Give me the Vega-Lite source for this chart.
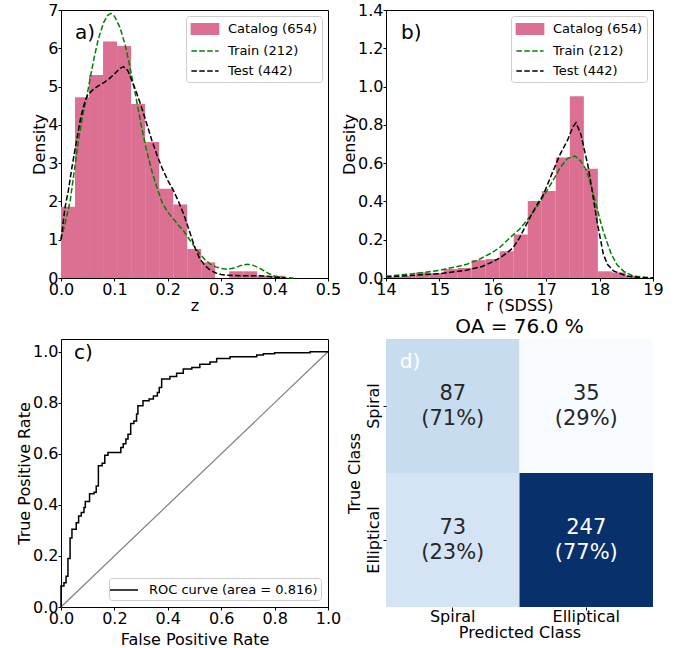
{
  "$schema": "https://vega.github.io/schema/vega-lite/v6.json",
  "background": "white",
  "padding": {"left": 16, "top": 1, "right": 5, "bottom": 5},
  "config": {
    "font": "DejaVu Sans",
    "view": {"stroke": "black", "strokeWidth": 1},
    "axis": {
      "labelFont": "DejaVu Sans", "titleFont": "DejaVu Sans",
      "labelFontSize": 16, "titleFontSize": 16, "titleFontWeight": "normal",
      "labelColor": "black", "titleColor": "black", "domainColor": "black", "tickColor": "black",
      "tickSize": 3, "labelPadding": 0, "titlePadding": 0, "grid": false,
      "labelFlush": false, "labelOverlap": false
    },
    "axisX": {"labelOverlap": false},
    "axisY": {"labelOverlap": false},
    "axisQuantitative": {"labelOverlap": false},
    "title": {"font": "DejaVu Sans", "fontWeight": "normal", "color": "black"}
  },
  "resolve": {"scale": {"color": "independent"}, "legend": {"color": "independent"}},
  "datasets": {
    "histA": [
      {"z0": 0, "z1": 0.02625, "density": 1.864},
      {"z0": 0.02625, "z1": 0.0525, "density": 4.718},
      {"z0": 0.0525, "z1": 0.07875, "density": 5.301},
      {"z0": 0.07875, "z1": 0.105, "density": 6.174},
      {"z0": 0.105, "z1": 0.13125, "density": 6.058},
      {"z0": 0.13125, "z1": 0.1575, "density": 4.544},
      {"z0": 0.1575, "z1": 0.18375, "density": 3.553},
      {"z0": 0.18375, "z1": 0.21, "density": 2.33},
      {"z0": 0.21, "z1": 0.23625, "density": 1.922},
      {"z0": 0.23625, "z1": 0.2625, "density": 0.757},
      {"z0": 0.2625, "z1": 0.28875, "density": 0.408},
      {"z0": 0.28875, "z1": 0.315, "density": 0},
      {"z0": 0.315, "z1": 0.34125, "density": 0.175},
      {"z0": 0.34125, "z1": 0.3675, "density": 0.175},
      {"z0": 0.3675, "z1": 0.39375, "density": 0.058},
      {"z0": 0.39375, "z1": 0.42, "density": 0.058}
    ],
    "kdeA": [
      {"series": "Train (212)", "z": 0, "density": 1.0},
      {"series": "Train (212)", "z": 0.008, "density": 1.45},
      {"series": "Train (212)", "z": 0.017, "density": 2.0},
      {"series": "Train (212)", "z": 0.025, "density": 2.8},
      {"series": "Train (212)", "z": 0.0325, "density": 3.58},
      {"series": "Train (212)", "z": 0.04, "density": 4.2},
      {"series": "Train (212)", "z": 0.048, "density": 4.71},
      {"series": "Train (212)", "z": 0.055, "density": 5.25},
      {"series": "Train (212)", "z": 0.062, "density": 5.75},
      {"series": "Train (212)", "z": 0.07, "density": 6.25},
      {"series": "Train (212)", "z": 0.08, "density": 6.68},
      {"series": "Train (212)", "z": 0.0875, "density": 6.86},
      {"series": "Train (212)", "z": 0.0937, "density": 6.91},
      {"series": "Train (212)", "z": 0.1, "density": 6.84},
      {"series": "Train (212)", "z": 0.11, "density": 6.56},
      {"series": "Train (212)", "z": 0.12, "density": 6.1},
      {"series": "Train (212)", "z": 0.13, "density": 5.45},
      {"series": "Train (212)", "z": 0.14, "density": 4.75},
      {"series": "Train (212)", "z": 0.15, "density": 4.0},
      {"series": "Train (212)", "z": 0.16, "density": 3.35},
      {"series": "Train (212)", "z": 0.17, "density": 2.8},
      {"series": "Train (212)", "z": 0.18, "density": 2.35},
      {"series": "Train (212)", "z": 0.19, "density": 1.95},
      {"series": "Train (212)", "z": 0.2, "density": 1.72},
      {"series": "Train (212)", "z": 0.21, "density": 1.55},
      {"series": "Train (212)", "z": 0.22, "density": 1.38},
      {"series": "Train (212)", "z": 0.23, "density": 1.22},
      {"series": "Train (212)", "z": 0.24, "density": 1.02},
      {"series": "Train (212)", "z": 0.25, "density": 0.82},
      {"series": "Train (212)", "z": 0.26, "density": 0.63},
      {"series": "Train (212)", "z": 0.27, "density": 0.47},
      {"series": "Train (212)", "z": 0.28, "density": 0.36},
      {"series": "Train (212)", "z": 0.29, "density": 0.29},
      {"series": "Train (212)", "z": 0.3, "density": 0.25},
      {"series": "Train (212)", "z": 0.31, "density": 0.23},
      {"series": "Train (212)", "z": 0.32, "density": 0.25},
      {"series": "Train (212)", "z": 0.33, "density": 0.29},
      {"series": "Train (212)", "z": 0.34, "density": 0.34},
      {"series": "Train (212)", "z": 0.35, "density": 0.36},
      {"series": "Train (212)", "z": 0.36, "density": 0.33},
      {"series": "Train (212)", "z": 0.37, "density": 0.27},
      {"series": "Train (212)", "z": 0.38, "density": 0.19},
      {"series": "Train (212)", "z": 0.39, "density": 0.11},
      {"series": "Train (212)", "z": 0.4, "density": 0.05},
      {"series": "Train (212)", "z": 0.41, "density": 0.02},
      {"series": "Train (212)", "z": 0.42, "density": 0.01},
      {"series": "Train (212)", "z": 0.435, "density": 0.0},
      {"series": "Test (442)", "z": 0, "density": 1.0},
      {"series": "Test (442)", "z": 0.0075, "density": 1.84},
      {"series": "Test (442)", "z": 0.014, "density": 2.3},
      {"series": "Test (442)", "z": 0.02, "density": 2.85},
      {"series": "Test (442)", "z": 0.029, "density": 3.58},
      {"series": "Test (442)", "z": 0.037, "density": 4.2},
      {"series": "Test (442)", "z": 0.045, "density": 4.62},
      {"series": "Test (442)", "z": 0.05, "density": 4.78},
      {"series": "Test (442)", "z": 0.06, "density": 4.92},
      {"series": "Test (442)", "z": 0.07, "density": 5.02},
      {"series": "Test (442)", "z": 0.08, "density": 5.1},
      {"series": "Test (442)", "z": 0.09, "density": 5.2},
      {"series": "Test (442)", "z": 0.1, "density": 5.33},
      {"series": "Test (442)", "z": 0.11, "density": 5.47},
      {"series": "Test (442)", "z": 0.117, "density": 5.52},
      {"series": "Test (442)", "z": 0.125, "density": 5.42},
      {"series": "Test (442)", "z": 0.13, "density": 5.25},
      {"series": "Test (442)", "z": 0.14, "density": 4.9},
      {"series": "Test (442)", "z": 0.15, "density": 4.5},
      {"series": "Test (442)", "z": 0.16, "density": 4.05},
      {"series": "Test (442)", "z": 0.17, "density": 3.6},
      {"series": "Test (442)", "z": 0.18, "density": 3.2},
      {"series": "Test (442)", "z": 0.19, "density": 2.85},
      {"series": "Test (442)", "z": 0.2, "density": 2.55},
      {"series": "Test (442)", "z": 0.21, "density": 2.3},
      {"series": "Test (442)", "z": 0.22, "density": 2.0},
      {"series": "Test (442)", "z": 0.23, "density": 1.66},
      {"series": "Test (442)", "z": 0.24, "density": 1.25},
      {"series": "Test (442)", "z": 0.25, "density": 0.82},
      {"series": "Test (442)", "z": 0.26, "density": 0.5},
      {"series": "Test (442)", "z": 0.27, "density": 0.32},
      {"series": "Test (442)", "z": 0.28, "density": 0.2},
      {"series": "Test (442)", "z": 0.29, "density": 0.13},
      {"series": "Test (442)", "z": 0.3, "density": 0.09},
      {"series": "Test (442)", "z": 0.31, "density": 0.07},
      {"series": "Test (442)", "z": 0.34, "density": 0.06},
      {"series": "Test (442)", "z": 0.37, "density": 0.06},
      {"series": "Test (442)", "z": 0.38, "density": 0.05},
      {"series": "Test (442)", "z": 0.39, "density": 0.04},
      {"series": "Test (442)", "z": 0.4, "density": 0.02},
      {"series": "Test (442)", "z": 0.42, "density": 0.0}
    ],
    "histB": [
      {"r0": 14.03, "r1": 14.2925, "density": 0.0058},
      {"r0": 14.2925, "r1": 14.555, "density": 0.0117},
      {"r0": 14.555, "r1": 14.8175, "density": 0.029},
      {"r0": 14.8175, "r1": 15.08, "density": 0.025},
      {"r0": 15.08, "r1": 15.3425, "density": 0.0466},
      {"r0": 15.3425, "r1": 15.605, "density": 0.0524},
      {"r0": 15.605, "r1": 15.8675, "density": 0.0932},
      {"r0": 15.8675, "r1": 16.13, "density": 0.099},
      {"r0": 16.13, "r1": 16.3925, "density": 0.1398},
      {"r0": 16.3925, "r1": 16.655, "density": 0.2272},
      {"r0": 16.655, "r1": 16.9175, "density": 0.4019},
      {"r0": 16.9175, "r1": 17.18, "density": 0.4544},
      {"r0": 17.18, "r1": 17.4425, "density": 0.6291},
      {"r0": 17.4425, "r1": 17.705, "density": 0.9495},
      {"r0": 17.705, "r1": 17.9675, "density": 0.5708},
      {"r0": 17.9675, "r1": 18.23, "density": 0.035},
      {"r0": 18.23, "r1": 18.4925, "density": 0.0291},
      {"r0": 18.4925, "r1": 18.755, "density": 0.0117}
    ],
    "kdeB": [
      {"series": "Train (212)", "r": 14.0, "density": 0.009},
      {"series": "Train (212)", "r": 14.5, "density": 0.022},
      {"series": "Train (212)", "r": 15.0, "density": 0.04},
      {"series": "Train (212)", "r": 15.5, "density": 0.07},
      {"series": "Train (212)", "r": 15.75, "density": 0.098},
      {"series": "Train (212)", "r": 16.0, "density": 0.135},
      {"series": "Train (212)", "r": 16.13, "density": 0.16},
      {"series": "Train (212)", "r": 16.32, "density": 0.21},
      {"series": "Train (212)", "r": 16.5, "density": 0.255},
      {"series": "Train (212)", "r": 16.63, "density": 0.298},
      {"series": "Train (212)", "r": 16.8, "density": 0.36},
      {"series": "Train (212)", "r": 17.01, "density": 0.455},
      {"series": "Train (212)", "r": 17.15, "density": 0.52},
      {"series": "Train (212)", "r": 17.26, "density": 0.576},
      {"series": "Train (212)", "r": 17.4, "density": 0.625},
      {"series": "Train (212)", "r": 17.54, "density": 0.637},
      {"series": "Train (212)", "r": 17.65, "density": 0.61},
      {"series": "Train (212)", "r": 17.76, "density": 0.56},
      {"series": "Train (212)", "r": 17.85, "density": 0.47},
      {"series": "Train (212)", "r": 17.95, "density": 0.367},
      {"series": "Train (212)", "r": 18.04, "density": 0.27},
      {"series": "Train (212)", "r": 18.13, "density": 0.193},
      {"series": "Train (212)", "r": 18.22, "density": 0.125},
      {"series": "Train (212)", "r": 18.32, "density": 0.072},
      {"series": "Train (212)", "r": 18.45, "density": 0.035},
      {"series": "Train (212)", "r": 18.63, "density": 0.01},
      {"series": "Train (212)", "r": 18.8, "density": 0.004},
      {"series": "Train (212)", "r": 19.0, "density": 0.001},
      {"series": "Test (442)", "r": 14.0, "density": 0.005},
      {"series": "Test (442)", "r": 14.5, "density": 0.014},
      {"series": "Test (442)", "r": 15.0, "density": 0.023},
      {"series": "Test (442)", "r": 15.5, "density": 0.04},
      {"series": "Test (442)", "r": 15.8, "density": 0.06},
      {"series": "Test (442)", "r": 16.0, "density": 0.085},
      {"series": "Test (442)", "r": 16.13, "density": 0.105},
      {"series": "Test (442)", "r": 16.25, "density": 0.128},
      {"series": "Test (442)", "r": 16.38, "density": 0.158},
      {"series": "Test (442)", "r": 16.5, "density": 0.21},
      {"series": "Test (442)", "r": 16.63, "density": 0.28},
      {"series": "Test (442)", "r": 16.8, "density": 0.37},
      {"series": "Test (442)", "r": 16.95, "density": 0.437},
      {"series": "Test (442)", "r": 17.1, "density": 0.54},
      {"series": "Test (442)", "r": 17.26, "density": 0.646},
      {"series": "Test (442)", "r": 17.4, "density": 0.72},
      {"series": "Test (442)", "r": 17.5, "density": 0.79},
      {"series": "Test (442)", "r": 17.558, "density": 0.811},
      {"series": "Test (442)", "r": 17.65, "density": 0.75},
      {"series": "Test (442)", "r": 17.79, "density": 0.576},
      {"series": "Test (442)", "r": 17.87, "density": 0.44},
      {"series": "Test (442)", "r": 17.95, "density": 0.298},
      {"series": "Test (442)", "r": 18.07, "density": 0.124},
      {"series": "Test (442)", "r": 18.15, "density": 0.07},
      {"series": "Test (442)", "r": 18.26, "density": 0.037},
      {"series": "Test (442)", "r": 18.51, "density": 0.01},
      {"series": "Test (442)", "r": 18.75, "density": 0.003},
      {"series": "Test (442)", "r": 19.0, "density": 0.001}
    ],
    "roc": [
      {"fpr": 0, "tpr": 0},
      {"fpr": 0.011, "tpr": 0.082},
      {"fpr": 0.019, "tpr": 0.095},
      {"fpr": 0.026, "tpr": 0.12},
      {"fpr": 0.034, "tpr": 0.19},
      {"fpr": 0.041, "tpr": 0.27},
      {"fpr": 0.057, "tpr": 0.305},
      {"fpr": 0.066, "tpr": 0.33},
      {"fpr": 0.076, "tpr": 0.357},
      {"fpr": 0.086, "tpr": 0.37},
      {"fpr": 0.091, "tpr": 0.39},
      {"fpr": 0.107, "tpr": 0.413},
      {"fpr": 0.124, "tpr": 0.444},
      {"fpr": 0.132, "tpr": 0.45},
      {"fpr": 0.14, "tpr": 0.474},
      {"fpr": 0.154, "tpr": 0.553},
      {"fpr": 0.164, "tpr": 0.563},
      {"fpr": 0.176, "tpr": 0.595},
      {"fpr": 0.224, "tpr": 0.605},
      {"fpr": 0.233, "tpr": 0.625},
      {"fpr": 0.243, "tpr": 0.64},
      {"fpr": 0.251, "tpr": 0.658},
      {"fpr": 0.261, "tpr": 0.677},
      {"fpr": 0.273, "tpr": 0.719},
      {"fpr": 0.283, "tpr": 0.729},
      {"fpr": 0.288, "tpr": 0.756},
      {"fpr": 0.307, "tpr": 0.788},
      {"fpr": 0.33, "tpr": 0.808},
      {"fpr": 0.346, "tpr": 0.815},
      {"fpr": 0.361, "tpr": 0.827},
      {"fpr": 0.368, "tpr": 0.84},
      {"fpr": 0.377, "tpr": 0.86},
      {"fpr": 0.408, "tpr": 0.893},
      {"fpr": 0.433, "tpr": 0.903},
      {"fpr": 0.458, "tpr": 0.916},
      {"fpr": 0.49, "tpr": 0.932},
      {"fpr": 0.52, "tpr": 0.938},
      {"fpr": 0.558, "tpr": 0.951},
      {"fpr": 0.583, "tpr": 0.96},
      {"fpr": 0.633, "tpr": 0.974},
      {"fpr": 0.733, "tpr": 0.98},
      {"fpr": 0.758, "tpr": 0.987},
      {"fpr": 0.8, "tpr": 0.992},
      {"fpr": 0.933, "tpr": 0.996},
      {"fpr": 1.0, "tpr": 1.0}
    ],
    "diag": [{"fpr": 0, "tpr": 0}, {"fpr": 1, "tpr": 1}],
    "cm": [
      {"actual": "Spiral", "pred": "Spiral", "count": 87, "label": "87\n(71%)"},
      {"actual": "Spiral", "pred": "Elliptical", "count": 35, "label": "35\n(29%)"},
      {"actual": "Elliptical", "pred": "Spiral", "count": 73, "label": "73\n(23%)"},
      {"actual": "Elliptical", "pred": "Elliptical", "count": 247, "label": "247\n(77%)"}
    ]
  },
  "columns": 2,
  "bounds": "flush",
  "spacing": {"row": 61, "column": 58},
  "concat": [
    {
      "width": 267, "height": 268,
      "layer": [
        {
          "data": {"name": "histA"},
          "mark": {"type": "rect"},
          "encoding": {
            "x": {"field": "z0", "type": "quantitative", "scale": {"domain": [0, 0.5], "nice": false}, "axis": {"title": "z", "values": [0, 0.1, 0.2, 0.3, 0.4, 0.5], "format": ".1f", "labelOverlap": false}},
            "x2": {"field": "z1"},
            "y": {"field": "density", "type": "quantitative", "scale": {"domain": [0, 7], "nice": false}, "axis": {"title": "Density", "values": [0, 1, 2, 3, 4, 5, 6, 7], "format": "d", "labelOverlap": false}},
            "y2": {"datum": 0},
            "color": {
              "datum": "Catalog (654)", "type": "nominal", "title": null,
              "scale": {"domain": ["Catalog (654)", "Train (212)", "Test (442)"], "range": ["#db7093", "#008000", "#000000"]},
              "legend": {
                "title": null, "orient": "top-right", "offset": 6,
                "fillColor": "white", "strokeColor": "#cccccc", "cornerRadius": 3, "padding": 4,
                "labelFontSize": 13, "labelColor": "black", "labelLimit": 300, "symbolSize": 256, "rowPadding": 4,
                "labelOffset": 14, "symbolOffset": 6, "symbolStrokeWidth": 1.5, "symbolType": "M-1.7,0H1.7",
                "encode": {"symbols": {"update": {
                  "shape": {"signal": "datum.value === 'Catalog (654)' ? 'M-1.7,-0.65H1.7V0.65H-1.7Z' : 'M-1.7,0H1.7'"},
                  "fill": {"signal": "datum.value === 'Catalog (654)' ? '#db7093' : 'transparent'"},
                  "stroke": {"signal": "datum.value === 'Catalog (654)' ? 'transparent' : (datum.value === 'Train (212)' ? '#008000' : '#000000')"},
                  "strokeDash": {"signal": "datum.value === 'Catalog (654)' ? [1, 0] : [5.5, 2.4]"},
                  "opacity": {"value": 1}
                }}}
              }
            }
          }
        },
        {
          "data": {"name": "kdeA"},
          "mark": {"type": "line", "strokeWidth": 1.5, "strokeDash": [5.5, 2.4]},
          "encoding": {
            "x": {"field": "z", "type": "quantitative", "axis": {"title": "z", "values": [0, 0.1, 0.2, 0.3, 0.4, 0.5], "format": ".1f", "labelOverlap": false}},
            "y": {"field": "density", "type": "quantitative", "axis": {"title": "Density", "values": [0, 1, 2, 3, 4, 5, 6, 7], "format": "d", "labelOverlap": false}},
            "color": {"field": "series", "type": "nominal", "title": null}
          }
        },
        {
          "data": {"values": [{"t": "a)", "x": 0.026, "y": 6.4}]},
          "mark": {"type": "text", "fontSize": 20, "align": "left", "baseline": "middle", "color": "black"},
          "encoding": {
            "x": {"field": "x", "type": "quantitative", "axis": {"title": "z", "values": [0, 0.1, 0.2, 0.3, 0.4, 0.5], "format": ".1f", "labelOverlap": false}},
            "y": {"field": "y", "type": "quantitative", "axis": {"title": "Density", "values": [0, 1, 2, 3, 4, 5, 6, 7], "format": "d", "labelOverlap": false}},
            "text": {"field": "t"}
          }
        }
      ]
    },
    {
      "width": 267, "height": 268,
      "layer": [
        {
          "data": {"name": "histB"},
          "mark": {"type": "rect"},
          "encoding": {
            "x": {"field": "r0", "type": "quantitative", "scale": {"domain": [14, 19], "nice": false}, "axis": {"title": "r (SDSS)", "values": [14, 15, 16, 17, 18, 19], "format": "d", "labelOverlap": false}},
            "x2": {"field": "r1"},
            "y": {"field": "density", "type": "quantitative", "scale": {"domain": [0, 1.4], "nice": false}, "axis": {"title": "Density", "values": [0, 0.2, 0.4, 0.6, 0.8, 1.0, 1.2, 1.4], "format": ".1f", "labelOverlap": false}},
            "y2": {"datum": 0},
            "color": {
              "datum": "Catalog (654)", "type": "nominal", "title": null,
              "scale": {"domain": ["Catalog (654)", "Train (212)", "Test (442)"], "range": ["#db7093", "#008000", "#000000"]},
              "legend": {
                "title": null, "orient": "top-right", "offset": 6,
                "fillColor": "white", "strokeColor": "#cccccc", "cornerRadius": 3, "padding": 4,
                "labelFontSize": 13, "labelColor": "black", "labelLimit": 300, "symbolSize": 256, "rowPadding": 4,
                "labelOffset": 14, "symbolOffset": 6, "symbolStrokeWidth": 1.5, "symbolType": "M-1.7,0H1.7",
                "encode": {"symbols": {"update": {
                  "shape": {"signal": "datum.value === 'Catalog (654)' ? 'M-1.7,-0.65H1.7V0.65H-1.7Z' : 'M-1.7,0H1.7'"},
                  "fill": {"signal": "datum.value === 'Catalog (654)' ? '#db7093' : 'transparent'"},
                  "stroke": {"signal": "datum.value === 'Catalog (654)' ? 'transparent' : (datum.value === 'Train (212)' ? '#008000' : '#000000')"},
                  "strokeDash": {"signal": "datum.value === 'Catalog (654)' ? [1, 0] : [5.5, 2.4]"},
                  "opacity": {"value": 1}
                }}}
              }
            }
          }
        },
        {
          "data": {"name": "kdeB"},
          "mark": {"type": "line", "strokeWidth": 1.5, "strokeDash": [5.5, 2.4]},
          "encoding": {
            "x": {"field": "r", "type": "quantitative", "axis": {"title": "r (SDSS)", "values": [14, 15, 16, 17, 18, 19], "format": "d", "labelOverlap": false}},
            "y": {"field": "density", "type": "quantitative", "axis": {"title": "Density", "values": [0, 0.2, 0.4, 0.6, 0.8, 1.0, 1.2, 1.4], "format": ".1f", "labelOverlap": false}},
            "color": {"field": "series", "type": "nominal", "title": null}
          }
        },
        {
          "data": {"values": [{"t": "b)", "x": 14.28, "y": 1.28}]},
          "mark": {"type": "text", "fontSize": 20, "align": "left", "baseline": "middle", "color": "black"},
          "encoding": {
            "x": {"field": "x", "type": "quantitative", "axis": {"title": "r (SDSS)", "values": [14, 15, 16, 17, 18, 19], "format": "d", "labelOverlap": false}},
            "y": {"field": "y", "type": "quantitative", "axis": {"title": "Density", "values": [0, 0.2, 0.4, 0.6, 0.8, 1.0, 1.2, 1.4], "format": ".1f", "labelOverlap": false}},
            "text": {"field": "t"}
          }
        }
      ]
    },
    {
      "width": 267, "height": 268,
      "layer": [
        {
          "data": {"name": "diag"},
          "mark": {"type": "line", "color": "#808080", "strokeWidth": 1.2},
          "encoding": {
            "x": {"field": "fpr", "type": "quantitative", "scale": {"domain": [0, 1], "nice": false}, "axis": {"title": "False Positive Rate", "values": [0, 0.2, 0.4, 0.6, 0.8, 1.0], "format": ".1f", "labelOverlap": false, "titlePadding": 5}},
            "y": {"field": "tpr", "type": "quantitative", "scale": {"domain": [0, 1.05], "nice": false}, "axis": {"title": "True Positive Rate", "values": [0, 0.2, 0.4, 0.6, 0.8, 1.0], "format": ".1f", "labelOverlap": false}}
          }
        },
        {
          "data": {"name": "roc"},
          "mark": {"type": "line", "interpolate": "step-before", "strokeWidth": 1.5},
          "encoding": {
            "x": {"field": "fpr", "type": "quantitative", "axis": {"title": "False Positive Rate", "values": [0, 0.2, 0.4, 0.6, 0.8, 1.0], "format": ".1f", "labelOverlap": false, "titlePadding": 5}},
            "y": {"field": "tpr", "type": "quantitative", "axis": {"title": "True Positive Rate", "values": [0, 0.2, 0.4, 0.6, 0.8, 1.0], "format": ".1f", "labelOverlap": false}},
            "color": {
              "datum": "ROC curve (area = 0.816)", "type": "nominal", "title": null,
              "scale": {"domain": ["ROC curve (area = 0.816)"], "range": ["#000000"]},
              "legend": {
                "title": null, "orient": "bottom-right", "offset": 7,
                "fillColor": "white", "strokeColor": "#cccccc", "cornerRadius": 3, "padding": 3,
                "labelFontSize": 13, "labelColor": "black", "labelLimit": 400, "symbolSize": 256,
                "labelOffset": 16, "symbolOffset": 3, "symbolStrokeWidth": 1.5, "symbolType": "M-1.75,0H1.75"
              }
            }
          }
        },
        {
          "data": {"values": [{"t": "c)", "x": 0.049, "y": 0.996}]},
          "mark": {"type": "text", "fontSize": 20, "align": "left", "baseline": "middle", "color": "black"},
          "encoding": {
            "x": {"field": "x", "type": "quantitative", "axis": {"title": "False Positive Rate", "values": [0, 0.2, 0.4, 0.6, 0.8, 1.0], "format": ".1f", "labelOverlap": false, "titlePadding": 5}},
            "y": {"field": "y", "type": "quantitative", "axis": {"title": "True Positive Rate", "values": [0, 0.2, 0.4, 0.6, 0.8, 1.0], "format": ".1f", "labelOverlap": false}},
            "text": {"field": "t"}
          }
        }
      ]
    },
    {
      "width": 267, "height": 268,
      "view": {"stroke": null},
      "title": {"text": "OA = 76.0 %", "fontSize": 20, "fontWeight": "normal", "offset": 2},
      "data": {"name": "cm"},
      "encoding": {
        "x": {"field": "pred", "type": "nominal", "sort": ["Spiral", "Elliptical"], "axis": {"title": "Predicted Class", "labelAngle": 0, "domain": false, "labelPadding": -2, "titlePadding": 0}},
        "y": {"field": "actual", "type": "nominal", "sort": ["Spiral", "Elliptical"], "axis": {"title": "True Class", "labelAngle": 270, "labelAlign": "center", "labelBaseline": "bottom", "domain": false, "labelPadding": 2, "titlePadding": 3}}
      },
      "layer": [
        {
          "mark": {"type": "rect"},
          "encoding": {
            "color": {
              "field": "count", "type": "quantitative", "legend": null,
              "scale": {"type": "linear", "domain": [35, 61.5, 88, 114.5, 141, 167.5, 194, 220.5, 247], "range": ["#f7fbff", "#deebf7", "#c6dbef", "#9ecae1", "#6baed6", "#4292c6", "#2171b5", "#08519c", "#08306b"]}
            }
          }
        },
        {
          "mark": {"type": "text", "fontSize": 21, "lineBreak": "\n", "lineHeight": 25, "baseline": "middle", "dy": -12.5},
          "encoding": {
            "text": {"field": "label"},
            "color": {"condition": {"test": "datum.count > 150", "value": "white"}, "value": "#262626"}
          }
        },
        {
          "data": {"values": [{"t": "d)", "pred": "Spiral", "actual": "Spiral"}]},
          "mark": {"type": "text", "fontSize": 20, "color": "white", "align": "left", "baseline": "middle", "dx": -53, "dy": -44},
          "encoding": {"text": {"field": "t"}}
        }
      ]
    }
  ]
}
